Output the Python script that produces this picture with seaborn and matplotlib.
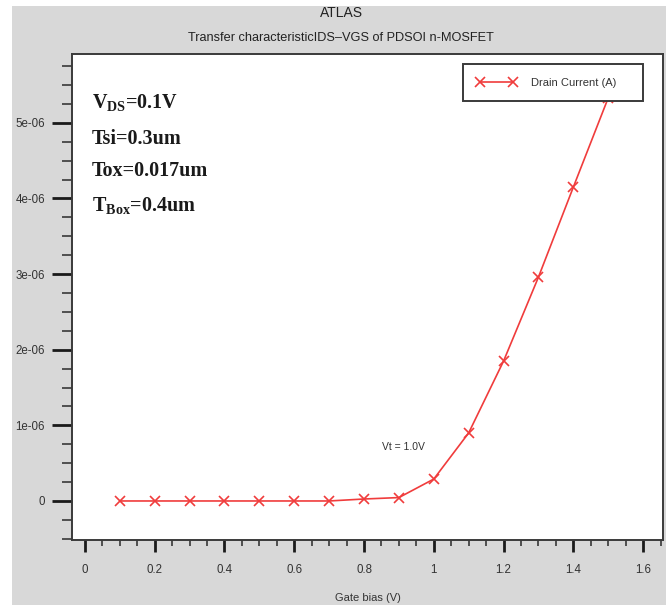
import matplotlib
matplotlib.use("Agg")
import matplotlib.pyplot as plt
from matplotlib.ticker import MultipleLocator, FuncFormatter
from matplotlib.patches import Rectangle
import pandas as pd
import seaborn as sns

# Transfer characteristic data: gate bias (V) vs drain current (A)
gate_bias = [0.1, 0.2, 0.3, 0.4, 0.5, 0.6, 0.7, 0.8, 0.9, 1.0, 1.1, 1.2, 1.3, 1.4, 1.5]
drain_current = [0.0, 0.0, 0.0, 0.0, 0.0, 0.0, 0.0, 0.026e-6, 0.045e-6, 0.29e-6,
                 0.90e-6, 1.85e-6, 2.96e-6, 4.15e-6, 5.33e-6]

series_label = "Drain Current (A)"
device_params = [r"V$_{\mathbf{DS}}$=0.1V", "Tsi=0.3um", "Tox=0.017um", r"T$_{\mathbf{Box}}$=0.4um"]
vt_label = "Vt = 1.0V"
vt_pos = (0.912, 0.714e-6)

main_title = "ATLAS"
sub_title = "Transfer characteristicIDS\u2013VGS of PDSOI n-MOSFET"
x_label = "Gate bias (V)"

sns.set_theme(style="white")
plt.rcParams["font.family"] = ["Liberation Sans", "DejaVu Sans"]
plt.rcParams["mathtext.fontset"] = "custom"
plt.rcParams["mathtext.rm"] = "Liberation Serif"
plt.rcParams["mathtext.bf"] = "Liberation Serif:bold"

W, H = 669, 605
fig = plt.figure(figsize=(W / 100, H / 100), dpi=100, facecolor="white")

# grey panel behind the plot
panel = Rectangle((12 / W, 0), (666 - 12) / W, 1 - 6 / H,
                  transform=fig.transFigure, facecolor="#d8d8d8",
                  edgecolor="none", zorder=-10)
fig.add_artist(panel)

ax = fig.add_axes([72 / W, 1 - 540 / H, (663 - 72) / W, (540 - 54) / H])
ax.set_zorder(1)
ax.set_facecolor("white")

df = pd.DataFrame({"Gate bias": gate_bias, "Drain current": drain_current})
red = "#f03c3c"
sns.lineplot(data=df, x="Gate bias", y="Drain current", ax=ax, color=red,
             linewidth=1.2, marker="x", markersize=7, markeredgewidth=1.2,
             markeredgecolor=red, label=series_label)

ax.set_xlim(-0.037, 1.657)
ax.set_ylim(-0.516e-6, 5.91e-6)

ax.xaxis.set_major_locator(MultipleLocator(0.2))
ax.xaxis.set_minor_locator(MultipleLocator(0.05))
ax.yaxis.set_major_locator(MultipleLocator(1e-6))
ax.yaxis.set_minor_locator(MultipleLocator(0.25e-6))


def x_fmt(v, pos):
    s = f"{v:.1f}"
    if s.endswith(".0"):
        s = s[:-2]
    return s


def y_fmt(v, pos):
    if abs(v) < 1e-12:
        return "0"
    return f"{v:.0e}"


ax.xaxis.set_major_formatter(FuncFormatter(x_fmt))
ax.yaxis.set_major_formatter(FuncFormatter(y_fmt))

ax.tick_params(axis="y", which="major", direction="out", length=14.4, width=2.0,
               color="#1a1a1a", pad=5, labelsize=8.3, labelcolor="#333333")
ax.tick_params(axis="y", which="minor", direction="out", length=7.2, width=1.3,
               color="#444444")
ax.tick_params(axis="x", which="major", direction="out", length=8.6, width=2.0,
               color="#1a1a1a", pad=9.0, labelsize=8.3, labelcolor="#333333")
ax.tick_params(axis="x", which="minor", direction="out", length=4.3, width=1.3,
               color="#444444")
ax.tick_params(left=True, bottom=True, which="both")

for sp in ax.spines.values():
    sp.set_visible(True)
    sp.set_color("#3a3a3a")
    sp.set_linewidth(1.4)

ax.set_xlabel(x_label, fontsize=8, color="#333333", labelpad=12)
ax.set_ylabel("")

# device parameters
param_y = [0.887, 0.815, 0.749, 0.675]
for txt, yy in zip(device_params, param_y):
    ax.text(0.034, yy, txt, transform=ax.transAxes, fontsize=14.5,
            fontweight="bold", family="Liberation Serif", color="#1a1a1a",
            va="baseline", ha="left")

ax.text(vt_pos[0], vt_pos[1], vt_label, fontsize=7.5, color="#333333",
        ha="center", va="center")

leg = ax.legend(loc="upper left", bbox_to_anchor=(0.6616, 0.979, 0.3044, 0.0),
                mode="expand", fontsize=8, frameon=True, fancybox=False,
                edgecolor="#3a3a3a", framealpha=1, borderpad=1.2,
                handlelength=3.6, handletextpad=1.3, numpoints=2,
                borderaxespad=0)
leg.get_frame().set_linewidth(1.4)
for t in leg.get_texts():
    t.set_color("#333333")

fig.text(341 / W, 1 - 13 / H, main_title, ha="center", va="center",
         fontsize=10, color="#222222")
fig.text(341 / W, 1 - 38 / H, sub_title, ha="center", va="center",
         fontsize=9.2, color="#222222")

fig.savefig("out.png", dpi=100, facecolor="white")
